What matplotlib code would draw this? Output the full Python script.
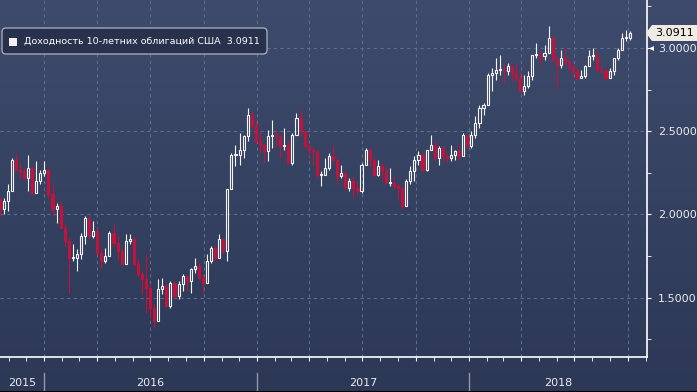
import matplotlib
matplotlib.use("Agg")
import matplotlib.pyplot as plt
import matplotlib.dates as mdates
import matplotlib.transforms as mtransforms
from matplotlib.colors import LinearSegmentedColormap
from matplotlib.patches import FancyBboxPatch, Polygon, Rectangle
from matplotlib.lines import Line2D
import numpy as np
import pandas as pd

W, H = 697, 392

# weekly candles (US 10y yield)
week_ends = pd.date_range("2015-10-16", periods=156, freq="W-FRI")

opens = [
    2.09, 2.03, 2.08, 2.14, 2.33, 2.27, 2.26, 2.22, 2.28, 2.13, 2.20, 2.25,
    2.27, 2.12, 2.03, 2.05, 1.92, 1.84, 1.74, 1.74, 1.76, 1.87, 1.98, 1.87,
    1.90, 1.77, 1.72, 1.75, 1.89, 1.83, 1.78, 1.70, 1.84, 1.85, 1.70, 1.64,
    1.61, 1.56, 1.44, 1.36, 1.55, 1.57, 1.45, 1.59, 1.51, 1.58, 1.63, 1.60,
    1.67, 1.69, 1.62, 1.59, 1.72, 1.80, 1.74, 1.85, 1.78, 2.15, 2.36, 2.36, 2.39, 2.47, 2.60, 2.54,
    2.44, 2.42, 2.38, 2.47, 2.48, 2.47, 2.41, 2.42, 2.31, 2.48, 2.58, 2.50,
    2.41, 2.39, 2.38, 2.24, 2.24, 2.28, 2.35, 2.33, 2.23, 2.25, 2.16, 2.20,
    2.16, 2.14, 2.30, 2.39, 2.33, 2.24, 2.29, 2.26, 2.19, 2.19, 2.17, 2.16,
    2.05, 2.20, 2.26, 2.33, 2.36, 2.27, 2.39, 2.42, 2.34, 2.40, 2.35, 2.34, 2.36, 2.38, 2.35, 2.48,
    2.41, 2.48, 2.55, 2.64, 2.66, 2.84, 2.85, 2.87, 2.87, 2.86, 2.89, 2.85,
    2.82, 2.74, 2.77, 2.83, 2.96, 2.96, 2.95, 2.97, 3.06, 2.93, 2.90, 2.94,
    2.92, 2.89, 2.86, 2.82, 2.83, 2.89, 2.95, 2.95, 2.87, 2.86, 2.82, 2.86, 2.94, 2.99, 3.06, 3.06,
]
highs = [
    2.10, 2.10, 2.18, 2.34, 2.37, 2.31, 2.28, 2.36, 2.29, 2.32, 2.27, 2.32,
    2.28, 2.18, 2.07, 2.08, 1.94, 1.86, 1.82, 1.79, 1.89, 1.99, 1.99, 1.96,
    1.92, 1.80, 1.80, 1.90, 1.94, 1.87, 1.80, 1.88, 1.88, 1.87, 1.73, 1.66,
    1.76, 1.58, 1.46, 1.61, 1.62, 1.58, 1.60, 1.60, 1.60, 1.64, 1.63, 1.68,
    1.74, 1.71, 1.64, 1.76, 1.81, 1.81, 1.88, 1.86, 2.15, 2.37, 2.42, 2.49, 2.48, 2.64, 2.62, 2.57,
    2.50, 2.43, 2.51, 2.57, 2.51, 2.48, 2.52, 2.45, 2.49, 2.61, 2.63, 2.51,
    2.43, 2.40, 2.38, 2.26, 2.34, 2.37, 2.42, 2.34, 2.30, 2.26, 2.22, 2.23,
    2.20, 2.31, 2.40, 2.40, 2.34, 2.33, 2.31, 2.29, 2.28, 2.23, 2.19, 2.17,
    2.21, 2.29, 2.35, 2.38, 2.37, 2.39, 2.48, 2.44, 2.41, 2.42, 2.37, 2.42, 2.39, 2.42, 2.49, 2.48,
    2.50, 2.59, 2.66, 2.67, 2.85, 2.88, 2.94, 2.96, 2.91, 2.91, 2.90, 2.91,
    2.86, 2.84, 2.86, 2.96, 3.03, 2.98, 3.02, 3.13, 3.07, 2.95, 2.99, 3.00,
    2.93, 2.90, 2.88, 2.87, 2.90, 2.99, 3.00, 2.98, 2.90, 2.88, 2.88, 2.94, 3.00, 3.09, 3.11, 3.10,
]
lows = [
    1.99, 2.00, 2.02, 2.14, 2.26, 2.22, 2.21, 2.14, 2.12, 2.13, 2.18, 2.23,
    2.10, 1.99, 1.95, 1.92, 1.81, 1.53, 1.72, 1.66, 1.73, 1.82, 1.86, 1.86,
    1.76, 1.68, 1.71, 1.75, 1.81, 1.73, 1.70, 1.70, 1.82, 1.69, 1.63, 1.52,
    1.41, 1.38, 1.32, 1.36, 1.52, 1.45, 1.44, 1.50, 1.49, 1.54, 1.54, 1.53,
    1.65, 1.61, 1.53, 1.59, 1.71, 1.72, 1.74, 1.77, 1.72, 2.15, 2.29, 2.30, 2.34, 2.44, 2.52, 2.43,
    2.37, 2.31, 2.32, 2.40, 2.41, 2.34, 2.39, 2.31, 2.30, 2.48, 2.47, 2.40,
    2.35, 2.30, 2.22, 2.17, 2.24, 2.27, 2.32, 2.18, 2.22, 2.15, 2.14, 2.10,
    2.12, 2.13, 2.30, 2.29, 2.23, 2.23, 2.20, 2.18, 2.17, 2.15, 2.09, 2.03,
    2.05, 2.18, 2.20, 2.30, 2.27, 2.26, 2.39, 2.32, 2.30, 2.33, 2.31, 2.32, 2.33, 2.33, 2.35, 2.40,
    2.40, 2.46, 2.52, 2.60, 2.66, 2.74, 2.81, 2.84, 2.79, 2.84, 2.80, 2.80,
    2.73, 2.72, 2.76, 2.81, 2.94, 2.90, 2.93, 2.97, 2.92, 2.76, 2.88, 2.90,
    2.87, 2.82, 2.81, 2.82, 2.82, 2.89, 2.93, 2.86, 2.85, 2.81, 2.82, 2.84, 2.93, 2.99, 3.04, 3.05,
]
closes = [
    2.03, 2.08, 2.14, 2.33, 2.27, 2.26, 2.22, 2.28, 2.13, 2.20, 2.25, 2.27,
    2.12, 2.03, 2.05, 1.92, 1.84, 1.74, 1.74, 1.76, 1.87, 1.98, 1.87, 1.90,
    1.77, 1.72, 1.75, 1.89, 1.83, 1.78, 1.70, 1.84, 1.85, 1.70, 1.64, 1.61,
    1.56, 1.44, 1.36, 1.55, 1.57, 1.45, 1.59, 1.51, 1.58, 1.63, 1.60, 1.67,
    1.69, 1.62, 1.59, 1.72, 1.80, 1.74, 1.85, 1.78, 2.15, 2.36, 2.36, 2.39, 2.47, 2.60, 2.54, 2.44,
    2.42, 2.38, 2.47, 2.48, 2.47, 2.41, 2.42, 2.31, 2.48, 2.58, 2.50, 2.41,
    2.39, 2.38, 2.24, 2.24, 2.28, 2.35, 2.33, 2.23, 2.25, 2.16, 2.20, 2.16,
    2.14, 2.30, 2.39, 2.33, 2.24, 2.29, 2.26, 2.19, 2.19, 2.17, 2.16, 2.05,
    2.20, 2.26, 2.33, 2.36, 2.27, 2.39, 2.42, 2.34, 2.40, 2.35, 2.34, 2.36, 2.38, 2.35, 2.48, 2.41,
    2.48, 2.55, 2.64, 2.66, 2.84, 2.85, 2.87, 2.87, 2.86, 2.89, 2.85, 2.82,
    2.74, 2.77, 2.83, 2.96, 2.96, 2.95, 2.97, 3.06, 2.93, 2.90, 2.94, 2.92,
    2.89, 2.86, 2.82, 2.83, 2.89, 2.95, 2.95, 2.87, 2.86, 2.82, 2.86, 2.94, 2.99, 3.06, 3.06, 3.0911,
]

series_label = "Доходность 10-летних облигаций США"
last_label = "3.0911"
y_ticks = [1.5, 2.0, 2.5, 3.0]
year_starts = ["2016-01-01", "2017-01-01", "2018-01-01"]
year_labels = ["2015", "2016", "2017", "2018"]

RED = "#c4123c"
WHITE = "#f4f4f4"
GRID = "#5b6e8d"

fig = plt.figure(figsize=(W / 100, H / 100), dpi=100)

# background gradient
bg = fig.add_axes([0, 0, 1, 1], zorder=-10)
cmap = LinearSegmentedColormap.from_list("bg", ["#3e4b6c", "#2c3856"])
bg.imshow(np.linspace(0, 1, 256).reshape(-1, 1), aspect="auto", cmap=cmap,
          extent=[0, 1, 0, 1])
bg.axis("off")

ax = fig.add_axes([0, 35 / H, 646.7 / W, 357 / H])
ax.patch.set_alpha(0)

x0 = mdates.date2num(pd.Timestamp("2016-01-01"))
ax.set_xlim(x0 - 76.4, mdates.date2num(pd.Timestamp("2018-01-01")) + 305.9)
ax.set_ylim(1.143, 3.289)

# candles
xs = mdates.date2num(week_ends)
o = np.array(opens)
h = np.array(highs)
l = np.array(lows)
c = np.array(closes)
up = c >= o
lo_b = np.minimum(o, c)
hi_b = np.maximum(o, c)
edge = [WHITE if u else RED for u in up]
face = ["none" if u else RED for u in up]
ax.vlines(xs, l, lo_b, colors=edge, lw=0.8, zorder=3)
ax.vlines(xs, hi_b, h, colors=edge, lw=0.8, zorder=3)
ax.bar(xs, np.maximum(hi_b - lo_b, 0.006), bottom=lo_b, width=3.6,
       color=face, edgecolor=edge, linewidth=0.8, zorder=4)

# axes styling
for s in ["left", "top"]:
    ax.spines[s].set_visible(False)
for s in ["right", "bottom"]:
    ax.spines[s].set_color("white")
    ax.spines[s].set_linewidth(1.2)

ax.xaxis.set_major_locator(mdates.MonthLocator(bymonth=[1, 4, 7, 10]))
ax.xaxis.set_minor_locator(mdates.MonthLocator())
ax.tick_params(axis="x", which="both", direction="out", length=3,
               color="white", labelbottom=False)

ax.yaxis.tick_right()
ax.set_yticks(y_ticks)
ax.set_yticks(np.arange(1.25, 3.26, 0.25), minor=True)
ax.yaxis.set_major_formatter(plt.FormatStrFormatter("%.4f"))
ax.tick_params(axis="y", which="both", direction="out", length=3,
               color="white", labelcolor="#ececec", labelsize=8, pad=5)

ax.grid(True, which="major", linestyle=(0, (3, 3)), color=GRID, lw=0.8)

# year band
sep_y0 = (357 - 373) / 357
sep_y1 = -35 / 357
trans = mtransforms.blended_transform_factory(ax.transData, ax.transAxes)
for d in year_starts:
    xd = mdates.date2num(pd.Timestamp(d))
    ax.plot([xd, xd], [sep_y0, sep_y1], transform=trans, color="#9099ac",
            lw=1, clip_on=False)
xl, xr = ax.get_xlim()
bounds = [xl] + [mdates.date2num(pd.Timestamp(d)) for d in year_starts] + [xr]
for i, lab in enumerate(year_labels):
    ax.text((bounds[i] + bounds[i + 1]) / 2, (357 - 383) / 357, lab,
            transform=trans, ha="center", va="center", color="#ececec",
            fontsize=8)

# legend box (pixel coordinates)
px = mtransforms.IdentityTransform()
fig.patches.append(FancyBboxPatch((2, H - 54), 265, 26,
                                  boxstyle="round,pad=0,rounding_size=4",
                                  transform=px, facecolor="#28324c",
                                  edgecolor="#a0a8b8", lw=1))
fig.patches.append(Rectangle((9, H - 46), 8, 8, transform=px,
                             facecolor="#f6f1ee", edgecolor="none"))
fig.text(24 / W, 1 - 41.5 / H, series_label + "  " + last_label,
         color="white", fontsize=6.8, va="center", ha="left")

# last value tag
fig.patches.append(Polygon([(646, H - 33), (652, H - 25), (697, H - 25),
                            (697, H - 41), (652, H - 41)], closed=True,
                           transform=px, facecolor="#efebe4",
                           edgecolor="none"))
fig.text(655 / W, 1 - 33 / H, last_label, color="black", fontsize=8,
         va="center", ha="left")
# small pointer before the 3.0000 label
fig.patches.append(Polygon([(649, H - 48.5), (654, H - 46), (654, H - 51)],
                           closed=True, transform=px, facecolor="white",
                           edgecolor="none"))

# bottom dark line
fig.lines.append(Line2D([0, 1], [0.5 / H, 0.5 / H], transform=fig.transFigure,
                        color="black", lw=1.5))

fig.savefig("out.png", dpi=100)
